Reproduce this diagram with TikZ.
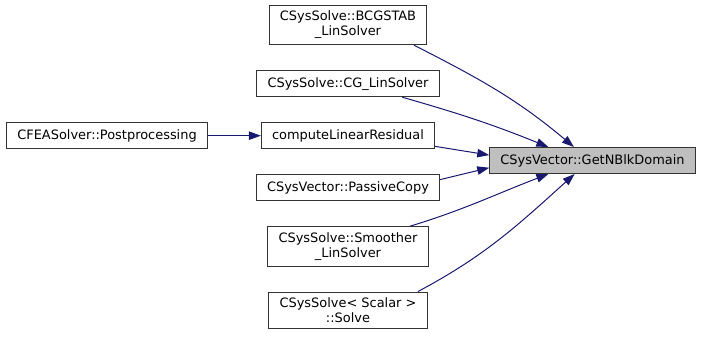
\documentclass[tikz,border=0pt]{standalone}
\usepackage{fontspec}
\setmainfont{DejaVu Sans}
\usetikzlibrary{positioning, arrows.meta}
\definecolor{edgeblue}{RGB}{25,25,112}
\tikzset{
  fn/.style={draw=black!80, fill=white, line width=0.75pt, align=center,
    inner xsep=8pt, inner ysep=4.3pt, minimum height=19.5pt,
    font=\fontsize{9.7}{11.25}\selectfont},
  call/.style={draw=edgeblue, line width=0.75pt,
    -{Triangle[length=9pt,width=6.3pt]}, fill=none},
}
\begin{document}
\begin{tikzpicture}[x=0.75pt, y=-0.75pt, node distance=18.75pt]
\useasboundingbox (0,0) rectangle (703,336);
\node[fn, fill=black!25] (nblk) at (592.5,160.5) {CSysVector::GetNBlkDomain};
\node[fn] (bcg) at (348,25) {CSysSolve::BCGSTAB\\\_LinSolver};
\node[fn, below=of bcg] (cg) {CSysSolve::CG\_LinSolver};
\node[fn, below=of cg] (resid) {computeLinearResidual};
\node[fn, below=of resid] (pcopy) {CSysVector::PassiveCopy};
\node[fn, below=of pcopy] (smooth) {CSysSolve::Smoother\\\_LinSolver};
\node[fn, below=of smooth] (solve) {CSysSolve< Scalar >\\::Solve};
\node[fn, left=39.75pt of resid] (post) {CFEASolver::Postprocessing};
\draw[call] (post) -- (resid);
\draw[call] (bcg.-17) to[out=-27, in=140] (nblk.144.5);
\draw[call] (cg.-14.5) to[out=-16, in=158] (nblk.163.6);
\draw[call] (resid.-7) -- (nblk.177);
\draw[call] (pcopy.5) -- (nblk.-176);
\draw[call] (smooth.18) to[out=17, in=-159] (nblk.-163.6);
\draw[call] (solve.15.4) to[out=28, in=-138] (nblk.-143);
\end{tikzpicture}
\end{document}
